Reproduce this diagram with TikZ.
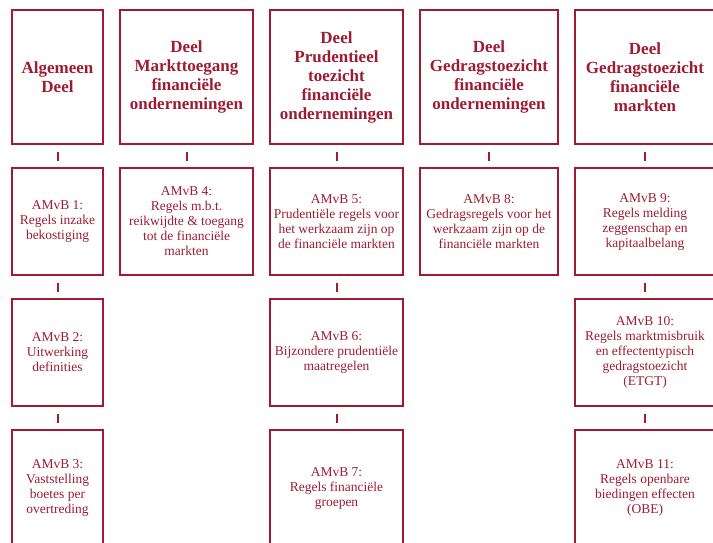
\documentclass[tikz,border=0pt]{standalone}
\usepackage{fontspec}
\setmainfont{Liberation Serif}
\definecolor{wine}{RGB}{158,27,50}
\begin{document}
\begin{tikzpicture}[x=1pt,y=-1pt,
  box/.style={draw=wine, line width=1.3pt, inner sep=0pt, align=center, text=wine},
  head/.style={box, font=\fontsize{17}{19}\selectfont\bfseries},
  body/.style={box, font=\fontsize{13.5}{15}\selectfont},
  link/.style={draw=wine, line width=2pt, shorten <=7.5pt, shorten >=6.5pt}]
\useasboundingbox (0,0) rectangle (713,543);
\clip (0,0) rectangle (713,543);
% headers
\node[head, minimum width=91pt, minimum height=134pt] (h1) at (57.5,77) {Algemeen\\Deel};
\node[head, minimum width=133pt, minimum height=134pt] (h2) at (186.5,77) {Deel\\Markttoegang\\financiële\\ondernemingen};
\node[head, minimum width=133pt, minimum height=134pt] (h3) at (336.5,77) {Deel\\Prudentieel\\toezicht\\financiële\\ondernemingen};
\node[head, minimum width=138pt, minimum height=134pt] (h4) at (489,77) {Deel\\Gedragstoezicht\\financiële\\ondernemingen};
\node[head, minimum width=140pt, minimum height=134pt] (h5) at (645,77) {Deel\\Gedragstoezicht\\financiële\\markten};
% row 2
\node[body, minimum width=91pt, minimum height=107pt] (a1) at (57.5,221.5) {AMvB 1:\\Regels inzake\\bekostiging};
\node[body, minimum width=133pt, minimum height=107pt] (a4) at (186.5,221.5) {AMvB 4:\\Regels m.b.t.\\reikwijdte \& toegang\\tot de financiële\\markten};
\node[body, minimum width=133pt, minimum height=107pt] (a5) at (336.5,221.5) {AMvB 5:\\Prudentiële regels voor\\het werkzaam zijn op\\de financiële markten};
\node[body, minimum width=138pt, minimum height=107pt] (a8) at (489,221.5) {AMvB 8:\\Gedragsregels voor het\\werkzaam zijn op de\\financiële markten};
\node[body, minimum width=140pt, minimum height=107pt] (a9) at (645,221.5) {AMvB 9:\\Regels melding\\zeggenschap en\\kapitaalbelang};
% row 3
\node[body, minimum width=91pt, minimum height=107pt] (a2) at (57.5,352.5) {AMvB 2:\\Uitwerking\\definities};
\node[body, minimum width=133pt, minimum height=107pt] (a6) at (336.5,352.5) {AMvB 6:\\Bijzondere prudentiële\\maatregelen};
\node[body, minimum width=140pt, minimum height=107pt] (a10) at (645,352.5) {AMvB 10:\\Regels marktmisbruik\\en effectentypisch\\gedragstoezicht\\(ETGT)};
% row 4
\node[body, minimum width=91pt, minimum height=116pt] (a3) at (57.5,488) {AMvB 3:\\Vaststelling\\boetes per\\overtreding};
\node[body, minimum width=133pt, minimum height=116pt] (a7) at (336.5,488) {AMvB 7:\\Regels financiële\\groepen};
\node[body, minimum width=140pt, minimum height=116pt] (a11) at (645,488) {AMvB 11:\\Regels openbare\\biedingen effecten\\(OBE)};
% connectors
\draw[link] (h1.south) -- (a1.north);
\draw[link] (a1.south) -- (a2.north);
\draw[link] (a2.south) -- (a3.north);
\draw[link] (h2.south) -- (a4.north);
\draw[link] (h3.south) -- (a5.north);
\draw[link] (a5.south) -- (a6.north);
\draw[link] (a6.south) -- (a7.north);
\draw[link] (h4.south) -- (a8.north);
\draw[link] (h5.south) -- (a9.north);
\draw[link] (a9.south) -- (a10.north);
\draw[link] (a10.south) -- (a11.north);
\end{tikzpicture}
\end{document}
